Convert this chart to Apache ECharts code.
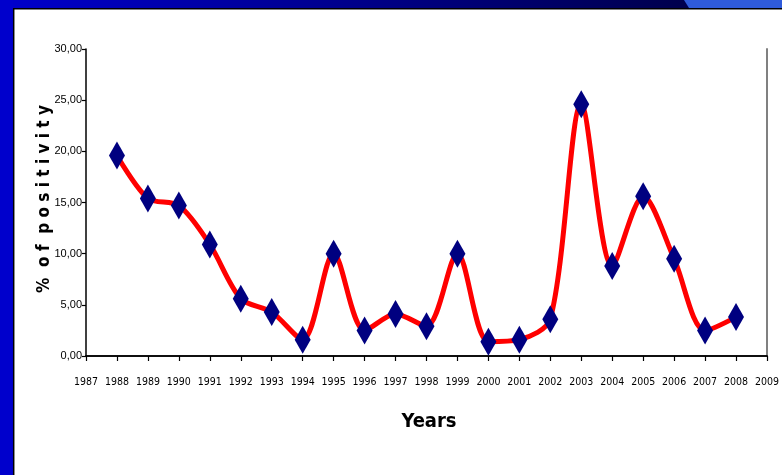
<!DOCTYPE html>
<html>
<head>
<meta charset="utf-8">
<script src="https://cdn.jsdelivr.net/npm/echarts@6/dist/echarts.min.js"></script>
<style>
  html, body { margin: 0; padding: 0; background: #ffffff; }
  #chart { width: 782px; height: 475px; }
</style>
</head>
<body>
<div id="chart"></div>
<script>
// Yearly percentage of positive samples, 1988–2008
const years = [1988, 1989, 1990, 1991, 1992, 1993, 1994, 1995, 1996, 1997, 1998,
               1999, 2000, 2001, 2002, 2003, 2004, 2005, 2006, 2007, 2008];
const positivity = [19.6, 15.4, 14.7, 10.9, 5.6, 4.3, 1.6, 10.0, 2.5, 4.1, 2.9,
                    10.0, 1.4, 1.6, 3.6, 24.6, 8.8, 15.6, 9.5, 2.5, 3.8];
const xRange = [1987, 2009];
const yRange = [0, 30];
const yStep = 5;

const condensed = '"DejaVu Sans Condensed", "Liberation Sans", Arial, sans-serif';
const plain = '"Liberation Sans", Arial, sans-serif';

const chart = echarts.init(document.getElementById('chart'), null, { renderer: 'canvas' });

chart.setOption({
  backgroundColor: '#ffffff',
  animation: false,
  grid: { left: 86, right: 7, top: 49, bottom: 119 },
  xAxis: [{
    type: 'value',
    min: xRange[0], max: xRange[1], interval: 1,
    axisLine: { lineStyle: { color: '#000000', width: 1.5 } },
    axisTick: { show: true, length: 5, inside: false, lineStyle: { color: '#000000', width: 1.2 } },
    axisLabel: {
      margin: 21, color: '#000000', fontFamily: condensed, fontSize: 10.5,
      formatter: v => String(v)
    },
    splitLine: { show: false }
  }, {
    type: 'value', position: 'top',
    min: xRange[0], max: xRange[1],
    axisLine: { show: true, lineStyle: { color: '#000000', width: 1.5 } },
    axisTick: { show: false }, axisLabel: { show: false }, splitLine: { show: false }
  }],
  yAxis: [{
    type: 'value',
    min: yRange[0], max: yRange[1], interval: yStep,
    axisLine: { show: true, lineStyle: { color: '#000000', width: 1.5 } },
    axisTick: { show: true, length: 4, lineStyle: { color: '#000000', width: 1.2 } },
    axisLabel: {
      margin: 4, color: '#000000', fontFamily: plain, fontSize: 11,
      formatter: v => v.toFixed(2).replace('.', ',')
    },
    splitLine: { show: false }
  }, {
    type: 'value', position: 'right',
    min: yRange[0], max: yRange[1],
    axisLine: { show: true, lineStyle: { color: '#808080', width: 2 } },
    axisTick: { show: false }, axisLabel: { show: false }, splitLine: { show: false }
  }],
  series: [{
    type: 'line',
    data: years.map((y, i) => [y, positivity[i]]),
    smooth: 0.3,
    lineStyle: { color: '#ff0000', width: 5 },
    symbol: 'diamond',
    symbolSize: [16, 28],
    itemStyle: { color: '#000080' },
    z: 3
  }],
  graphic: [
    // slide frame: top bar and left bar
    {
      type: 'rect', shape: { x: 0, y: 0, width: 782, height: 8 },
      style: {
        fill: new echarts.graphic.LinearGradient(0, 0, 1, 0, [
          { offset: 0, color: '#0000cc' },
          { offset: 0.87, color: '#00004e' },
          { offset: 1, color: '#00004e' }
        ])
      }, z: 10
    },
    {
      type: 'polygon', shape: { points: [[684, 0], [782, 0], [782, 8], [689, 8]] },
      style: { fill: '#2f5bdb' }, z: 11
    },
    {
      type: 'rect', shape: { x: 0, y: 0, width: 13, height: 475 },
      style: { fill: '#0000cc' }, z: 12
    },
    {
      type: 'line', shape: { x1: 13, y1: 8.7, x2: 782, y2: 8.7 },
      style: { stroke: '#000000', lineWidth: 1.5 }, z: 12
    },
    {
      type: 'line', shape: { x1: 13.7, y1: 8, x2: 13.7, y2: 475 },
      style: { stroke: '#000000', lineWidth: 1.5 }, z: 12
    },
    // axis titles
    {
      type: 'text', x: 45, y: 199, rotation: Math.PI / 2,
      style: {
        text: '%  o f  p o s i t i v i t y',
        fontFamily: condensed, fontWeight: 'bold', fontSize: 17,
        fill: '#000000', align: 'center', verticalAlign: 'middle'
      }, z: 10
    },
    {
      type: 'text', x: 429, y: 422,
      style: {
        text: 'Years',
        fontFamily: condensed, fontWeight: 'bold', fontSize: 20,
        fill: '#000000', align: 'center', verticalAlign: 'middle'
      }, z: 10
    }
  ]
});
</script>
</body>
</html>
